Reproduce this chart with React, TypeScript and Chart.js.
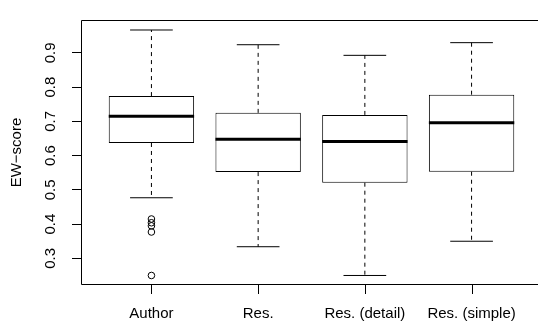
import { useEffect, useRef } from "react";
import { Chart, registerables } from "chart.js";

Chart.register(...registerables);

const categories = ["Author", "Res.", "Res. (detail)", "Res. (simple)"];
const whiskerLow = [0.477, 0.334, 0.25, 0.35];
const boxLow = [0.637, 0.552, 0.521, 0.553];
const medians = [0.715, 0.648, 0.641, 0.696];
const boxHigh = [0.774, 0.725, 0.719, 0.778];
const whiskerHigh = [0.967, 0.924, 0.893, 0.93];
const outlierCategory = ["Author", "Author", "Author", "Author", "Author"];
const outlierValues = [0.415, 0.404, 0.395, 0.377, 0.25];
const yTicks = [0.3, 0.4, 0.5, 0.6, 0.7, 0.8, 0.9];
const yLabel = "EW\u2212score";

const FONT = "'Liberation Sans', Arial, Helvetica, sans-serif";
const TICK_LEN = 9;

function unitPx(chart: any, units: number) {
  const s = chart.scales.x;
  if (!s) return 0;
  return Math.abs(s.getPixelForValue(1 + units) - s.getPixelForValue(1));
}

const framePlugin = {
  id: "frame",
  afterDraw(chart: any) {
    const { ctx, chartArea } = chart;
    const l = Math.round(chartArea.left) + 0.5;
    const t = Math.round(chartArea.top) + 0.5;
    const b = Math.round(chartArea.bottom) - 0.5;
    const r = Math.round(chartArea.right) - 0.5;
    ctx.save();
    ctx.strokeStyle = "#000";
    ctx.lineWidth = 1;
    ctx.setLineDash([]);
    ctx.beginPath();
    ctx.moveTo(r, t);
    ctx.lineTo(l, t);
    ctx.lineTo(l, b);
    ctx.lineTo(r, b);
    ctx.stroke();
    // x-axis tick marks, placed by the x scale
    const xs = chart.scales.x;
    ctx.fillStyle = "#000";
    xs.ticks.forEach((tk: any) => {
      const px = Math.round(xs.getPixelForValue(tk.value));
      ctx.fillRect(px, Math.round(chartArea.bottom), 1, TICK_LEN);
    });
    ctx.restore();
  },
};

export default function App() {
  const ref = useRef<HTMLCanvasElement>(null);

  useEffect(() => {
    if (!ref.current) return;
    const pos = categories.map((_, i) => i + 1);

    const whiskerSets: any[] = [];
    pos.forEach((x, i) => {
      whiskerSets.push({
        type: "line",
        data: [
          { x, y: boxHigh[i] },
          { x, y: whiskerHigh[i] },
        ],
        borderColor: "#000",
        borderWidth: 1,
        borderDash: [4, 4],
        pointRadius: 0,
        fill: false,
        order: 2,
      });
      whiskerSets.push({
        type: "line",
        data: [
          { x, y: boxLow[i] },
          { x, y: whiskerLow[i] },
        ],
        borderColor: "#000",
        borderWidth: 1,
        borderDash: [4, 4],
        pointRadius: 0,
        fill: false,
        order: 2,
      });
    });

    const chart = new Chart(ref.current, {
      type: "bar",
      data: {
        datasets: [
          {
            type: "scatter",
            data: pos.map((x, i) => ({ x, y: medians[i] })),
            pointStyle: "line",
            pointRadius: (c: any) => unitPx(c.chart, 0.4),
            pointBorderWidth: 3,
            pointBorderColor: "#000",
            order: 0,
          } as any,
          {
            type: "scatter",
            data: [
              ...pos.map((x, i) => ({ x, y: whiskerHigh[i] })),
              ...pos.map((x, i) => ({ x, y: whiskerLow[i] })),
            ],
            pointStyle: "line",
            pointRadius: (c: any) => unitPx(c.chart, 0.2),
            pointBorderWidth: 1,
            pointBorderColor: "#000",
            order: 1,
          } as any,
          {
            type: "scatter",
            data: outlierValues.map((v, i) => ({
              x: categories.indexOf(outlierCategory[i]) + 1,
              y: v,
            })),
            pointStyle: "circle",
            pointRadius: 3.3,
            pointBorderWidth: 1,
            pointBorderColor: "#000",
            pointBackgroundColor: "rgba(0,0,0,0)",
            order: 1,
          } as any,
          ...whiskerSets,
          {
            type: "bar",
            data: pos.map((x, i) => ({ x, y: [boxLow[i], boxHigh[i]] })),
            backgroundColor: "#fff",
            borderColor: "#000",
            borderWidth: 1,
            borderSkipped: false,
            barPercentage: 0.8,
            categoryPercentage: 1,
            order: 3,
          } as any,
        ],
      },
      options: {
        responsive: false,
        animation: false,
        events: [],
        layout: { padding: { top: 9, right: 18, left: 0, bottom: 0 } },
        plugins: {
          legend: { display: false },
          tooltip: { enabled: false },
        },
        scales: {
          x: {
            type: "linear",
            min: 0.34,
            max: 4.66,
            offset: false,
            afterBuildTicks: (s: any) => {
              s.ticks = pos.map((v) => ({ value: v }));
            },
            afterFit: (s: any) => {
              s.height = 38;
            },
            ticks: {
              autoSkip: false,
              maxRotation: 0,
              minRotation: 0,
              padding: 11,
              color: "#000",
              font: { family: FONT, size: 15 },
              callback: (v: any) => categories[Number(v) - 1],
            },
            grid: {
              offset: false,
              drawOnChartArea: false,
              drawTicks: true,
              tickLength: TICK_LEN,
              color: "rgba(0,0,0,0)",
              lineWidth: 1,
            },
            border: { display: false },
          },
          y: {
            type: "linear",
            min: 0.2222,
            max: 0.9962,
            afterBuildTicks: (s: any) => {
              s.ticks = yTicks.map((v) => ({ value: v }));
            },
            afterFit: (s: any) => {
              s.width = 81;
            },
            ticks: {
              minRotation: 90,
              maxRotation: 90,
              crossAlign: "center",
              padding: 11,
              color: "#000",
              font: { family: FONT, size: 15 },
              callback: (v: any) => Number(v).toFixed(1),
            },
            grid: {
              offset: false,
              drawOnChartArea: false,
              drawTicks: true,
              tickLength: TICK_LEN,
              color: "#000",
              lineWidth: 1,
            },
            border: { display: false },
            title: {
              display: true,
              text: yLabel,
              color: "#000",
              font: { family: FONT, size: 15 },
              padding: { top: 8, bottom: 0 },
            },
          },
        },
      },
      plugins: [framePlugin],
    });
    return () => chart.destroy();
  }, []);

  return (
    <div
      style={{
        position: "fixed",
        left: 0,
        top: 0,
        width: "100vw",
        height: "100vh",
        overflow: "hidden",
        background: "#fff",
      }}
    >
      <canvas ref={ref} width={560} height={323} style={{ display: "block" }} />
    </div>
  );
}
